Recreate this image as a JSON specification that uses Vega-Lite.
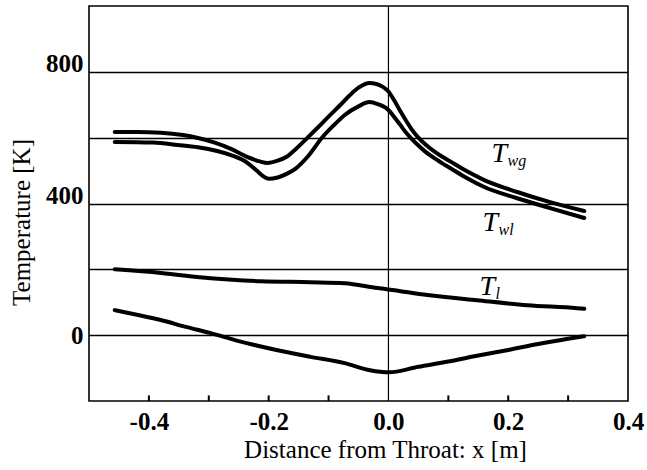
{
  "$schema": "https://vega.github.io/schema/vega-lite/v6.json",
  "width": 539,
  "height": 395,
  "autosize": {"type": "none"},
  "padding": {"left": 89, "top": 6, "right": 19, "bottom": 69},
  "background": "white",
  "config": {
    "view": {"stroke": "black", "strokeWidth": 1.6},
    "font": "Liberation Serif"
  },
  "datasets": {
    "curves": [
      {"s": "Twg", "x": -0.457, "y": 617}, {"s": "Twg", "x": -0.42, "y": 617}, {"s": "Twg", "x": -0.38, "y": 615}, {"s": "Twg", "x": -0.343, "y": 608}, {"s": "Twg", "x": -0.318, "y": 599}, {"s": "Twg", "x": -0.29, "y": 585}, {"s": "Twg", "x": -0.263, "y": 566}, {"s": "Twg", "x": -0.235, "y": 541}, {"s": "Twg", "x": -0.215, "y": 528}, {"s": "Twg", "x": -0.202, "y": 523}, {"s": "Twg", "x": -0.185, "y": 530}, {"s": "Twg", "x": -0.17, "y": 542}, {"s": "Twg", "x": -0.155, "y": 565}, {"s": "Twg", "x": -0.135, "y": 600}, {"s": "Twg", "x": -0.12, "y": 627}, {"s": "Twg", "x": -0.1, "y": 664}, {"s": "Twg", "x": -0.08, "y": 700}, {"s": "Twg", "x": -0.065, "y": 728}, {"s": "Twg", "x": -0.05, "y": 752}, {"s": "Twg", "x": -0.04, "y": 762}, {"s": "Twg", "x": -0.032, "y": 766}, {"s": "Twg", "x": -0.02, "y": 763}, {"s": "Twg", "x": -0.01, "y": 755}, {"s": "Twg", "x": 0.0, "y": 740}, {"s": "Twg", "x": 0.01, "y": 712}, {"s": "Twg", "x": 0.02, "y": 680}, {"s": "Twg", "x": 0.03, "y": 650}, {"s": "Twg", "x": 0.04, "y": 622}, {"s": "Twg", "x": 0.05, "y": 600}, {"s": "Twg", "x": 0.06, "y": 582}, {"s": "Twg", "x": 0.07, "y": 567}, {"s": "Twg", "x": 0.08, "y": 554}, {"s": "Twg", "x": 0.09, "y": 542}, {"s": "Twg", "x": 0.103, "y": 528}, {"s": "Twg", "x": 0.132, "y": 497}, {"s": "Twg", "x": 0.16, "y": 471}, {"s": "Twg", "x": 0.215, "y": 435}, {"s": "Twg", "x": 0.27, "y": 404}, {"s": "Twg", "x": 0.327, "y": 377},
      {"s": "Twl", "x": -0.457, "y": 587}, {"s": "Twl", "x": -0.393, "y": 585}, {"s": "Twl", "x": -0.352, "y": 578}, {"s": "Twl", "x": -0.318, "y": 571}, {"s": "Twl", "x": -0.263, "y": 547}, {"s": "Twl", "x": -0.235, "y": 523}, {"s": "Twl", "x": -0.22, "y": 500}, {"s": "Twl", "x": -0.21, "y": 484}, {"s": "Twl", "x": -0.2, "y": 475}, {"s": "Twl", "x": -0.185, "y": 479}, {"s": "Twl", "x": -0.17, "y": 490}, {"s": "Twl", "x": -0.155, "y": 506}, {"s": "Twl", "x": -0.135, "y": 542}, {"s": "Twl", "x": -0.11, "y": 602}, {"s": "Twl", "x": -0.09, "y": 640}, {"s": "Twl", "x": -0.073, "y": 669}, {"s": "Twl", "x": -0.05, "y": 695}, {"s": "Twl", "x": -0.032, "y": 708}, {"s": "Twl", "x": -0.018, "y": 702}, {"s": "Twl", "x": 0.0, "y": 684}, {"s": "Twl", "x": 0.01, "y": 662}, {"s": "Twl", "x": 0.02, "y": 638}, {"s": "Twl", "x": 0.03, "y": 614}, {"s": "Twl", "x": 0.04, "y": 594}, {"s": "Twl", "x": 0.05, "y": 576}, {"s": "Twl", "x": 0.06, "y": 560}, {"s": "Twl", "x": 0.07, "y": 546}, {"s": "Twl", "x": 0.08, "y": 534}, {"s": "Twl", "x": 0.09, "y": 522}, {"s": "Twl", "x": 0.103, "y": 508}, {"s": "Twl", "x": 0.13, "y": 478}, {"s": "Twl", "x": 0.16, "y": 450}, {"s": "Twl", "x": 0.215, "y": 416}, {"s": "Twl", "x": 0.27, "y": 386}, {"s": "Twl", "x": 0.327, "y": 356},
      {"s": "Tl", "x": -0.457, "y": 200}, {"s": "Tl", "x": -0.38, "y": 189}, {"s": "Tl", "x": -0.297, "y": 173}, {"s": "Tl", "x": -0.213, "y": 164}, {"s": "Tl", "x": -0.13, "y": 161}, {"s": "Tl", "x": -0.073, "y": 158}, {"s": "Tl", "x": -0.018, "y": 143}, {"s": "Tl", "x": 0.0, "y": 139}, {"s": "Tl", "x": 0.065, "y": 122}, {"s": "Tl", "x": 0.148, "y": 106}, {"s": "Tl", "x": 0.232, "y": 91}, {"s": "Tl", "x": 0.315, "y": 82}, {"s": "Tl", "x": 0.327, "y": 80},
      {"s": "Tb", "x": -0.457, "y": 76}, {"s": "Tb", "x": -0.42, "y": 62}, {"s": "Tb", "x": -0.38, "y": 46}, {"s": "Tb", "x": -0.34, "y": 26}, {"s": "Tb", "x": -0.297, "y": 6}, {"s": "Tb", "x": -0.25, "y": -18}, {"s": "Tb", "x": -0.185, "y": -46}, {"s": "Tb", "x": -0.13, "y": -66}, {"s": "Tb", "x": -0.073, "y": -85}, {"s": "Tb", "x": -0.035, "y": -105}, {"s": "Tb", "x": -0.01, "y": -112}, {"s": "Tb", "x": 0.0, "y": -113}, {"s": "Tb", "x": 0.05, "y": -96}, {"s": "Tb", "x": 0.1, "y": -80}, {"s": "Tb", "x": 0.15, "y": -62}, {"s": "Tb", "x": 0.2, "y": -45}, {"s": "Tb", "x": 0.25, "y": -27}, {"s": "Tb", "x": 0.3, "y": -11}, {"s": "Tb", "x": 0.327, "y": -3}
    ],
    "labels": [
      {"x": 0.172, "y": 526, "main": "T", "sub": "wg"},
      {"x": 0.157, "y": 316, "main": "T", "sub": "wl"},
      {"x": 0.152, "y": 122, "main": "T", "sub": "l"}
    ],
    "zero": [{"x": 0}],
    "xticks": [{"x": -0.4}, {"x": -0.3}, {"x": -0.2}, {"x": -0.1}, {"x": 0.1}, {"x": 0.2}, {"x": 0.3}]
  },
  "layer": [
    {
      "data": {"name": "zero"},
      "mark": {"type": "rule", "stroke": "black", "strokeWidth": 1.2},
      "encoding": {
        "x": {"field": "x", "type": "quantitative"}
      }
    },
    {
      "data": {"name": "xticks"},
      "mark": {"type": "rule", "stroke": "black", "strokeWidth": 2},
      "encoding": {
        "x": {"field": "x", "type": "quantitative"},
        "y": {"datum": -200, "type": "quantitative"},
        "y2": {"datum": -183}
      }
    },
    {
      "data": {"name": "curves"},
      "mark": {"type": "line", "interpolate": "monotone", "color": "black", "strokeCap": "round", "strokeJoin": "round"},
      "encoding": {
        "x": {
          "field": "x", "type": "quantitative",
          "scale": {"domain": [-0.5, 0.4], "nice": false, "zero": false},
          "axis": {
            "values": [-0.4, -0.2, 0, 0.2, 0.4],
            "grid": false, "domain": false, "ticks": false,
            "labelExpr": "replace(format(datum.value, '.1f'), '\u2212', '-')",
            "labelFlush": false, "labelOverlap": false,
            "labelFont": "Liberation Serif", "labelFontWeight": "bold", "labelFontSize": 25, "labelColor": "black",
            "labelPadding": 8, "labelBaseline": "top",
            "title": "Distance from Throat: x [m]",
            "titleFont": "Liberation Serif", "titleFontWeight": "normal", "titleFontSize": 25, "titleColor": "black",
            "titleX": 296, "titleY": 56, "titleBaseline": "alphabetic"
          }
        },
        "y": {
          "field": "y", "type": "quantitative",
          "scale": {"domain": [-200, 1000], "nice": false, "zero": false},
          "axis": {
            "values": [0, 200, 400, 600, 800],
            "grid": true, "gridColor": "black", "gridWidth": 1.3, "gridOpacity": 1,
            "domain": false, "ticks": false,
            "labelExpr": "datum.value % 400 == 0 ? datum.label : ''",
            "labelFont": "Liberation Serif", "labelFontWeight": "bold", "labelFontSize": 25, "labelColor": "black",
            "labelPadding": 6,
            "labelBaseline": {"condition": {"test": "datum.value === 0", "value": "middle"}, "value": "alphabetic"},
            "title": "Temperature [K]",
            "titleFont": "Liberation Serif", "titleFontWeight": "normal", "titleFontSize": 25, "titleColor": "black",
            "titlePadding": 11, "titleY": 216
          }
        },
        "detail": {"field": "s", "type": "nominal"},
        "strokeWidth": {
          "field": "s", "type": "nominal",
          "scale": {"domain": ["Twg", "Twl", "Tl", "Tb"], "range": [4, 4, 4, 5]},
          "legend": null
        }
      }
    },
    {
      "data": {"name": "labels"},
      "mark": {"type": "text", "font": "Liberation Serif", "fontStyle": "italic", "fontSize": 28, "align": "left", "baseline": "alphabetic", "color": "black"},
      "encoding": {
        "x": {"field": "x", "type": "quantitative"},
        "y": {"field": "y", "type": "quantitative"},
        "text": {"field": "main"}
      }
    },
    {
      "data": {"name": "labels"},
      "mark": {"type": "text", "font": "Liberation Serif", "fontStyle": "italic", "fontSize": 16, "align": "left", "baseline": "alphabetic", "color": "black", "dx": 16, "dy": 4},
      "encoding": {
        "x": {"field": "x", "type": "quantitative"},
        "y": {"field": "y", "type": "quantitative"},
        "text": {"field": "sub"}
      }
    }
  ]
}
